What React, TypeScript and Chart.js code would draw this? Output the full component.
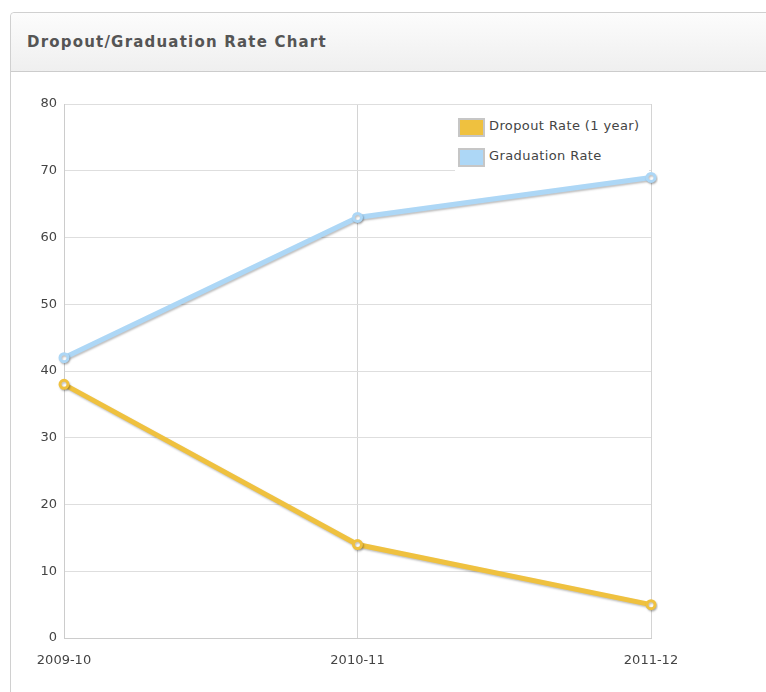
import React, { useEffect, useRef } from "react";
import { Chart, registerables } from "chart.js";

Chart.register(...registerables);

const categories = ["2009-10", "2010-11", "2011-12"];
const dropoutRate = [38, 14, 5];
const graduationRate = [42, 63, 69];
const seriesNames = ["Dropout Rate (1 year)", "Graduation Rate"];
const seriesColors = ["#EFC13F", "#ADD7F6"];
const yMin = 0;
const yMax = 80;
const yStep = 10;

const FONT = "'DejaVu Sans', Verdana, sans-serif";

const shadowPlugin = {
  id: "lineShadow",
  beforeDatasetDraw(chart: any) {
    const ctx = chart.ctx;
    ctx.save();
    ctx.shadowColor = "rgba(0,0,0,0.25)";
    ctx.shadowBlur = 2;
    ctx.shadowOffsetX = 1;
    ctx.shadowOffsetY = 1.5;
  },
  afterDatasetDraw(chart: any) {
    chart.ctx.restore();
  },
};

export default function App() {
  const ref = useRef<HTMLCanvasElement | null>(null);

  useEffect(() => {
    if (!ref.current) return;
    const mk = (label: string, data: number[], color: string) => ({
      label,
      data,
      borderColor: color,
      backgroundColor: "#ffffff",
      borderWidth: 5,
      pointRadius: 4,
      pointBorderWidth: 3,
      pointBackgroundColor: "#ffffff",
      pointBorderColor: color,
      tension: 0,
    });
    const chart = new Chart(ref.current, {
      type: "line",
      data: {
        labels: categories,
        datasets: [
          mk(seriesNames[0], dropoutRate, seriesColors[0]),
          mk(seriesNames[1], graduationRate, seriesColors[1]),
        ],
      },
      options: {
        animation: false,
        responsive: false,
        maintainAspectRatio: false,
        layout: { padding: { left: 0, right: 115, top: 32, bottom: 0 } },
        plugins: {
          legend: { display: false },
          tooltip: { enabled: false },
        },
        scales: {
          x: {
            offset: false,
            grid: { color: "#d4d4d4", drawTicks: false },
            border: { color: "#cccccc" },
            ticks: {
              color: "#444444",
              font: { family: FONT, size: 13 },
              padding: 15,
              maxRotation: 0,
            },
            afterFit(scale: any) {
              scale.height = 54;
            },
          },
          y: {
            min: yMin,
            max: yMax,
            grid: { color: "#dedede", drawTicks: false },
            border: { color: "#cccccc" },
            ticks: {
              stepSize: yStep,
              color: "#444444",
              font: { family: FONT, size: 13 },
              padding: 7,
            },
            afterFit(scale: any) {
              scale.width = 64;
            },
          },
        },
      },
      plugins: [shadowPlugin],
    });
    return () => chart.destroy();
  }, []);

  const swatch = (color: string, top: number) => (
    <div
      style={{
        position: "absolute",
        left: 3,
        top,
        width: 23,
        height: 15,
        border: "2px solid #c6c6c6",
        background: color,
      }}
    />
  );

  return (
    <div
      style={{
        position: "fixed",
        left: 0,
        top: 0,
        width: 766,
        height: 692,
        overflow: "hidden",
        background: "#ffffff",
        fontFamily: FONT,
      }}
    >
      <div
        style={{
          position: "absolute",
          left: 10,
          top: 12,
          width: 800,
          height: 720,
          border: "1px solid #d0d0d0",
          borderRadius: "4px 4px 0 0",
          boxSizing: "border-box",
        }}
      >
        <div
          style={{
            height: 58,
            borderBottom: "1px solid #cccccc",
            borderRadius: "4px 4px 0 0",
            background: "linear-gradient(#fcfcfc, #efefef)",
            display: "flex",
            alignItems: "center",
            paddingLeft: 16,
            fontWeight: "bold",
            fontSize: 15,
            letterSpacing: 1.2,
            color: "#555555",
          }}
        >
          Dropout/Graduation Rate Chart
        </div>
      </div>
      <canvas
        ref={ref}
        width={766}
        height={620}
        style={{ position: "absolute", left: 0, top: 72, width: 766, height: 620 }}
      />
      <div
        style={{
          position: "absolute",
          left: 455,
          top: 112,
          width: 194,
          height: 59,
          background: "#ffffff",
          fontSize: 13,
          letterSpacing: 0.4,
          color: "#444444",
        }}
      >
        {swatch(seriesColors[0], 6)}
        <div style={{ position: "absolute", left: 34, top: 6, whiteSpace: "nowrap" }}>
          {seriesNames[0]}
        </div>
        {swatch(seriesColors[1], 36)}
        <div style={{ position: "absolute", left: 34, top: 36, whiteSpace: "nowrap" }}>
          {seriesNames[1]}
        </div>
      </div>
    </div>
  );
}
